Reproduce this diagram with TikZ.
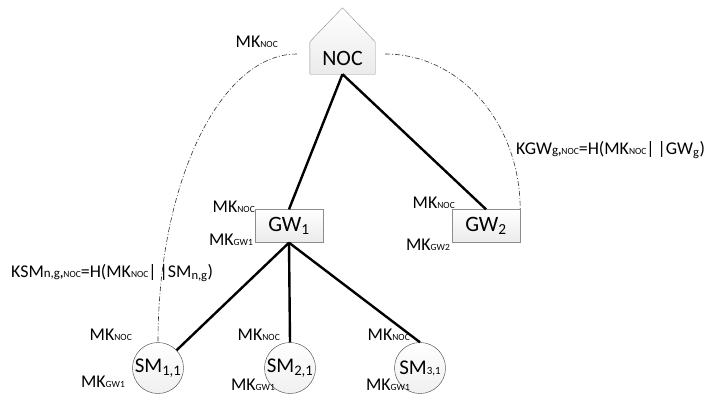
\documentclass[tikz,border=0pt]{standalone}
\usepackage{fontspec}
\setmainfont{Carlito}
\usetikzlibrary{backgrounds}
\newcommand{\bsub}[1]{{\fontsize{9.5}{9.5}\selectfont #1}}
\newcommand{\mknoc}{MK\bsub{NOC}}
\begin{document}
\begin{tikzpicture}[x=1bp,y=-1bp,
      every node/.style={font=\fontsize{18}{18}\selectfont,inner sep=1bp},
      boxnode/.style={rectangle,draw=gray!90,top color=white,bottom color=gray!16,
        minimum width=68bp,minimum height=33bp,font=\fontsize{22}{22}\selectfont},
      smnode/.style={circle,draw=black!75,top color=white,bottom color=gray!12,
        minimum size=51bp,inner sep=0pt,font=\fontsize{21}{21}\selectfont},
      link/.style={line width=2.4bp},
      keyline/.style={dash pattern=on 5bp off 2bp on 1bp off 2bp,line width=0.6bp,draw=black!80}]
    \useasboundingbox (0,0) rectangle (709,396);
    \node[minimum width=65bp,minimum height=32bp,font=\fontsize{22}{22}\selectfont]
      (noc) at (342.5,58) {NOC};
    \begin{scope}[on background layer]
      \path[draw=gray!90,top color=white,bottom color=gray!16]
        (noc.south west) -- (noc.north west) -- ([yshift=34bp]noc.north)
        -- (noc.north east) -- (noc.south east) -- cycle;
    \end{scope}
    \node[boxnode] (gw1) at (289,226) {GW\textsubscript{1}};
    \node[boxnode] (gw2) at (486,226) {GW\textsubscript{2}};
    \node[smnode] (sm11) at (158,368) {SM\textsubscript{1,1}};
    \node[smnode] (sm21) at (290,368) {SM\textsubscript{2,1}};
    \node[smnode] (sm31) at (420,368) {SM{\fontsize{11}{11}\selectfont 3,1}};

    \draw[link] (noc.south) -- (gw1.north);
    \draw[link] (noc.south) -- (gw2.north);
    \draw[link] (gw1.south) -- (sm11);
    \draw[link] (gw1.south) -- (sm21.north);
    \draw[link] (gw1.south) -- (sm31.north);

    \coordinate (arcL) at ([xshift=-13bp,yshift=4bp]noc.west);
    \coordinate (arcR) at ([xshift=10bp,yshift=4bp]noc.east);
    \draw[keyline] (arcL) .. controls (220,54) and (158,183) .. (sm11.north);
    \draw[keyline] (arcR) .. controls (460,54) and (520,123) .. (gw2.north east);

    \node[anchor=east] at (279,42) {\mknoc};
    \node[anchor=east] at (256,207) {\mknoc};
    \node[anchor=east] at (254,240) {MK\bsub{GW1}};
    \node[anchor=east] at (456,203) {\mknoc};
    \node[anchor=east] at (451,245) {MK\bsub{GW2}};
    \node[anchor=east] at (133,335) {\mknoc};
    \node[anchor=east] at (126,382) {MK\bsub{GW1}};
    \node[anchor=east] at (281,335) {\mknoc};
    \node[anchor=east] at (276,385) {MK\bsub{GW1}};
    \node[anchor=east] at (411,335) {\mknoc};
    \node[anchor=east] at (411,385) {MK\bsub{GW1}};

    \node[anchor=west] at (515,150)
      {KGW{\fontsize{13}{13}\selectfont g\textbf{,}}\bsub{NOC}=H(\mknoc|\,|GW\textsubscript{g})};
    \node[anchor=west] at (10,273)
      {KSM{\fontsize{13}{13}\selectfont n,g\textbf{,}}\bsub{NOC}=H(\mknoc|\,|SM\textsubscript{n,g})};
  \end{tikzpicture}
\end{document}
